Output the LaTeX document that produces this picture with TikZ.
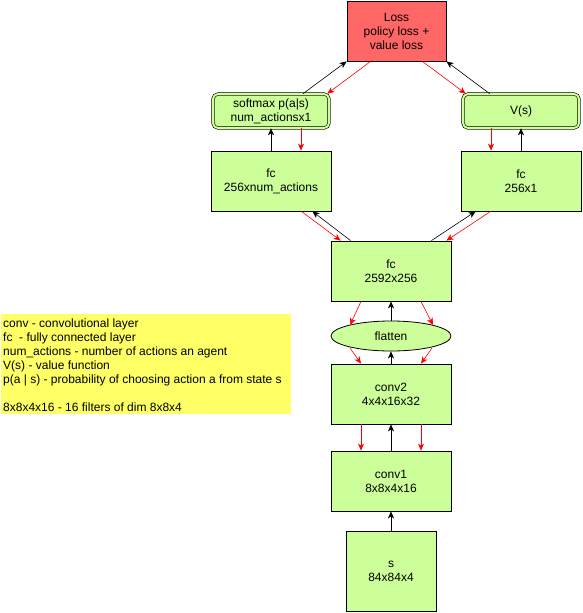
\documentclass[tikz,border=0pt]{standalone}
\usepackage{fontspec}
\setmainfont{Liberation Sans}
\usetikzlibrary{shapes.geometric,arrows.meta,calc}
\definecolor{boxgreen}{HTML}{CCFF99}
\definecolor{lossred}{HTML}{FF6666}
\definecolor{legyellow}{HTML}{FFFF66}
\begin{document}
\begin{tikzpicture}[x=1pt,y=-1pt,
  font=\fontsize{12}{14}\selectfont,
  layer/.style={draw=black, fill=boxgreen, line width=0.8pt, align=center, inner sep=0pt},
  outbox/.style={draw=black, double=boxgreen, double distance=2pt, line width=0.6pt, fill=boxgreen, rounded corners=5pt, align=center, inner sep=0pt, minimum width=116pt, minimum height=34pt},
  blk/.style={draw=black, line width=0.6pt, -{Stealth[length=7pt,width=6pt,inset=2pt]}},
  redarr/.style={draw=red, line width=0.6pt, -{Stealth[length=7pt,width=6pt,inset=2pt]}, color=red}
]
\useasboundingbox (0,0) rectangle (583,613);

% legend
\fill[legyellow] (1,314) rectangle (291,414);
\node[anchor=north west, align=left, inner sep=0pt] (legend) at (3,318.5)
  {conv - convolutional layer\\
   fc \ - fully connected layer\\
   num\_actions - number of actions an agent\\
   V(s) - value function\\
   p(a | s) - probability of choosing action a from state s\\[14pt]
   8x8x4x16 - 16 filters of dim 8x8x4};

% nodes
\node[layer, fill=lossred, minimum width=99pt, minimum height=60pt] (loss) at (396.5,31) {Loss\\policy loss +\\value loss};
\node[outbox] (softmax) at (271,111) {softmax p(a|s)\\num\_actionsx1};
\node[outbox] (vs) at (521,111) {V(s)};
\node[layer, minimum width=120pt, minimum height=60pt] (fcl) at (271,181) {fc\\256xnum\_actions};
\node[layer, minimum width=120pt, minimum height=60pt] (fcr) at (521,181) {fc\\256x1};
\node[layer, minimum width=120pt, minimum height=60pt] (fcc) at (391,271) {fc\\2592x256};
\node[layer, ellipse, minimum width=120pt, minimum height=30pt] (flatten) at (391,336) {flatten};
\node[layer, minimum width=120pt, minimum height=60pt] (conv2) at (391,394) {conv2\\ 4x4x16x32};
\node[layer, minimum width=120pt, minimum height=60pt] (conv1) at (391,481) {conv1\\8x8x4x16};
\node[layer, minimum width=90pt, minimum height=80pt] (s) at (391,571) {s\\84x84x4};

% top connectors
\draw[blk] ($(softmax.north)+(32,0)$) -- (loss.south west);
\draw[redarr] ($(loss.south west)+(24,0)$) -- ($(softmax.north east)+(-2,0)$);
\draw[redarr] ($(loss.south east)+(-24,0)$) -- ($(vs.north west)+(3,0)$);
\draw[blk] ($(vs.north west)+(27,0)$) -- (loss.south east);

% output heads
\draw[blk] (fcl.north) -- (softmax.south);
\draw[redarr] ($(softmax.south)+(30,0)$) -- ($(fcl.north)+(30,0)$);
\draw[redarr] ($(vs.south)+(-30,0)$) -- ($(fcr.north)+(-30,0)$);
\draw[blk] (fcr.north) -- (vs.south);

% shared fc to heads
\draw[blk] ($(fcc.north west)+(20,0)$) -- ($(fcl.south east)+(-19,0)$);
\draw[redarr] ($(fcl.south east)+(-30,0)$) -- ($(fcc.north west)+(10,0)$);
\draw[blk] ($(fcc.north east)+(-20,0)$) -- ($(fcr.south west)+(15,0)$);
\draw[redarr] ($(fcr.south west)+(30,0)$) -- ($(fcc.north east)+(-5,0)$);

% fc to flatten
\draw[redarr] ($(fcc.south)+(-30,0)$) -- ($(flatten.center)+(-41,-11)$);
\draw[redarr] ($(fcc.south)+(30,0)$) -- ($(flatten.center)+(42,-11)$);
\draw[blk] (flatten.north) -- (fcc.south);

% flatten to conv2
\draw[redarr] ($(flatten.center)+(-41,12)$) -- ($(conv2.north)+(-30,0)$);
\draw[redarr] ($(flatten.center)+(41,12)$) -- ($(conv2.north)+(30,0)$);
\draw[blk] (conv2.north) -- (flatten.south);

% conv2 to conv1
\draw[redarr] ($(conv2.south)+(-30,0)$) -- ($(conv1.north)+(-30,0)$);
\draw[redarr] ($(conv2.south)+(30,0)$) -- ($(conv1.north)+(30,0)$);
\draw[blk] (conv1.north) -- (conv2.south);

% input
\draw[blk] (s.north) -- (conv1.south);
\end{tikzpicture}
\end{document}
